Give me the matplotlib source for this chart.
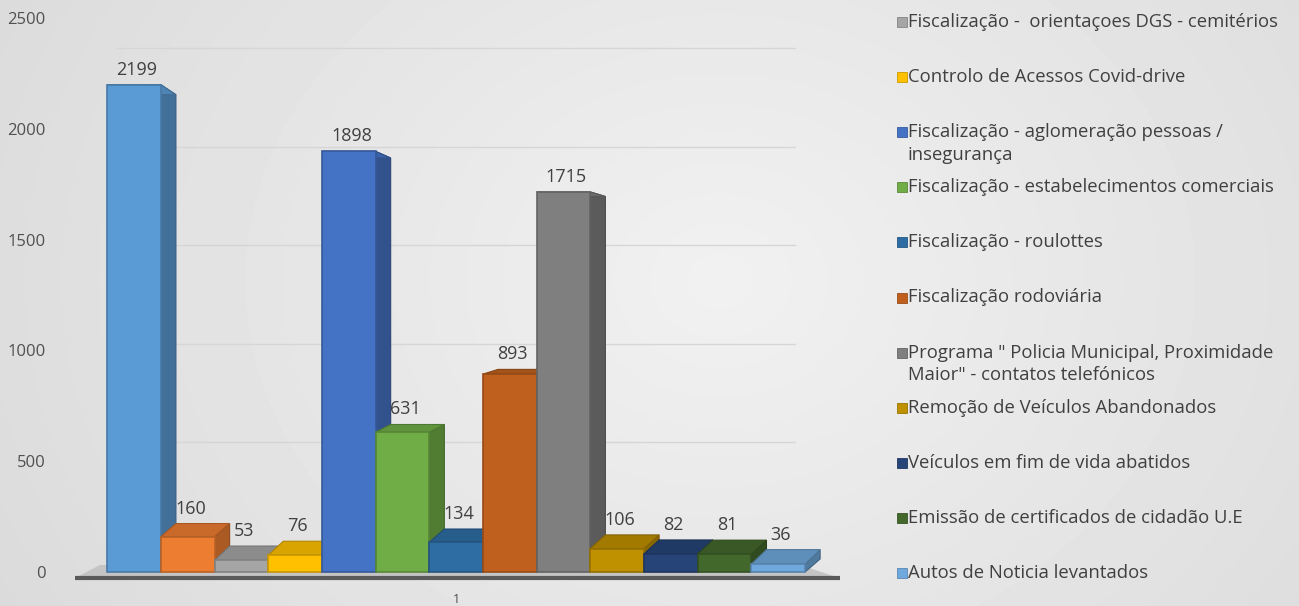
import matplotlib.pyplot as plt
import numpy as np
from matplotlib.patches import Polygon, Rectangle

# bar values, left to right
values = [2199, 160, 53, 76, 1898, 631, 134, 893, 1715, 106, 82, 81, 36]
colors = ['#5B9BD5', '#ED7D31', '#A5A5A5', '#FFC000', '#4472C4', '#70AD47',
          '#2E6DA4', '#C0601E', '#7F7F7F', '#BF9000', '#264478', '#43682B', '#6FA8DC']

# the legend only shows the last 11 series
legend_labels = [
    'Fiscalização -  orientaçoes DGS - cemitérios',
    'Controlo de Acessos Covid-drive',
    'Fiscalização - aglomeração pessoas /\ninsegurança',
    'Fiscalização - estabelecimentos comerciais',
    'Fiscalização - roulottes',
    'Fiscalização rodoviária',
    'Programa " Policia Municipal, Proximidade\nMaior" - contatos telefónicos',
    'Remoção de Veículos Abandonados',
    'Veículos em fim de vida abatidos',
    'Emissão de certificados de cidadão U.E',
    'Autos de Noticia levantados',
]
legend_colors = colors[2:]
yticks = [0, 500, 1000, 1500, 2000, 2500]

plt.rcParams['font.family'] = ['Open Sans', 'DejaVu Sans']

W, H = 1299, 606
fig = plt.figure(figsize=(W / 100, H / 100), dpi=100)

# soft radial grey background
bg = fig.add_axes([0, 0, 1, 1], zorder=-10)
yy, xx = np.mgrid[0:H, 0:W]
r = np.sqrt(((xx - 720) / 800.0) ** 2 + ((yy - 280) / 650.0) ** 2)
shade = np.clip(0.945 - 0.085 * r, 0, 1)
bg.imshow(shade, cmap='gray', vmin=0, vmax=1, aspect='auto')
bg.axis('off')

# main axes: 75..840 px wide, 10..590 px tall
ax = fig.add_axes([75 / W, 16 / H, 765 / W, 580 / H])
ax.set_facecolor('none')
px_per_unit = 0.2216
ax.set_xlim(-1.1, 13.15)
ax.set_ylim(-18 / px_per_unit, 562 / px_per_unit)

def to_dx(px):
    return -1.1 + (px - 75) / 53.7

def to_dy(px):
    return (572 - px) / px_per_unit

# back wall gridlines (perspective: slightly compressed)
for v in yticks[1:]:
    gy = 140 + 0.889 * v
    ax.plot([to_dx(117), to_dx(795)], [gy, gy], color='#d6d6d6', lw=1, zorder=0)

# floor
floor = Polygon([(to_dx(75), to_dy(578)), (to_dx(840), to_dy(578)),
                 (to_dx(800), to_dy(565)), (to_dx(100), to_dy(565))],
                closed=True, facecolor='#c4c4c4', edgecolor='none', zorder=1)
ax.add_patch(floor)
ax.plot([to_dx(75), to_dx(840)], [to_dy(578), to_dy(578)], color='#5a5a5a', lw=3,
        solid_capstyle='butt', zorder=1.5)


def shade_col(c, f):
    rgb = np.array(plt.matplotlib.colors.to_rgb(c))
    return tuple(rgb * f)


depth = 0.28
for i, (v, c) in enumerate(zip(values, colors)):
    x0, x1 = i - 0.5, i + 0.5
    dyv = (13 - 23 * (v - 160) / 2039) / px_per_unit
    base = 13 / px_per_unit
    z = 2 + 3 * i
    side = Polygon([(x1, 0), (x1, v), (x1 + depth, v + dyv), (x1 + depth, base)],
                   closed=True, facecolor=shade_col(c, 0.72), edgecolor=shade_col(c, 0.6),
                   lw=0.8, zorder=z)
    top = Polygon([(x0, v), (x1, v), (x1 + depth, v + dyv), (x0 + depth, v + dyv)],
                  closed=True, facecolor=shade_col(c, 0.85), edgecolor=shade_col(c, 0.7),
                  lw=0.8, zorder=z + 0.5)
    ax.add_patch(side)
    ax.add_patch(top)
    ax.bar(i, v, width=1.0, color=c, edgecolor=shade_col(c, 0.78), lw=1.2, zorder=z + 1)
    ax.text(i + 0.05, v + max(dyv, 0) + 15 / px_per_unit, str(v), ha='center', va='center',
            fontsize=13, color='#404040', zorder=50)

ax.set_yticks(yticks)
ax.set_yticklabels([str(t) for t in yticks])
ax.set_xticks([6])
ax.set_xticklabels(['1'])
ax.tick_params(axis='y', length=0, pad=21, labelsize=12, labelcolor='#505050')
ax.tick_params(axis='x', length=0, pad=2, labelsize=9, labelcolor='#505050')
for s in ax.spines.values():
    s.set_visible(False)

# legend drawn by hand on the right
for i, (lab, col) in enumerate(zip(legend_labels, legend_colors)):
    ypx = 22 + 55.1 * i
    fig.patches.append(Rectangle((897 / W, 1 - (ypx + 5) / H), 10 / W, 10 / H,
                                 transform=fig.transFigure, facecolor=col,
                                 edgecolor=shade_col(col, 0.8), lw=0.6))
    fig.text(908 / W, 1 - (ypx - 9) / H, lab, ha='left', va='top', fontsize=13.3,
             color='#404040', linespacing=1.35)

fig.savefig('out.png', dpi=100)
